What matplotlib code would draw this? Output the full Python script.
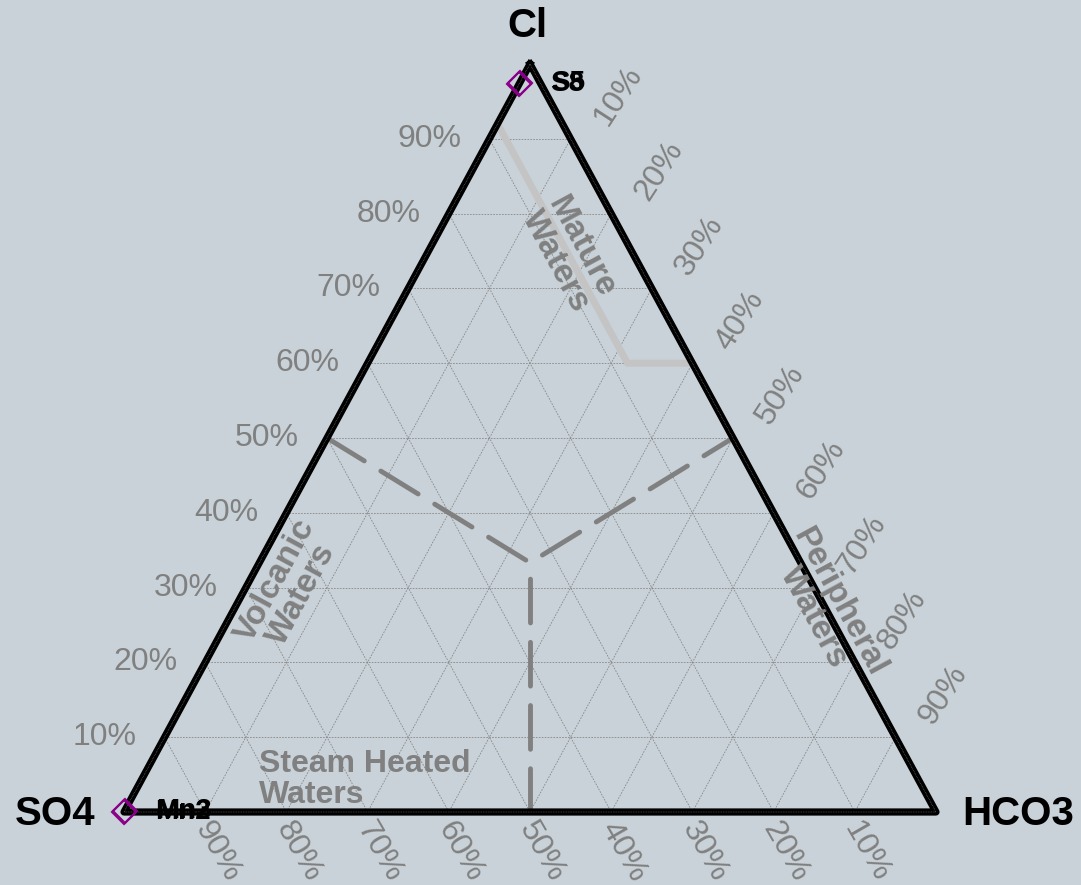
import numpy as np
import matplotlib.pyplot as plt

plt.rcParams['font.family'] = ['Liberation Sans', 'DejaVu Sans']

# ─────────────────────────────────────────────
# DATOS
# ─────────────────────────────────────────────
vertex_labels = ['Cl', 'SO4', 'HCO3']
tick_values = [10, 20, 30, 40, 50, 60, 70, 80, 90]

# muestras (Cl, SO4, HCO3)
sample_names = ['S5', 'S8', 'Mn2', 'Mn3']
sample_cl = [0.975, 0.973, 0.0, 0.002]
sample_so4 = [0.025, 0.027, 1.0, 0.998]
sample_hco3 = [0.0, 0.0, 0.0, 0.0]

# límite "Mature Waters" (Cl, SO4, HCO3)
mature_cl = [0.92, 0.60, 0.60]
mature_so4 = [0.08, 0.08, 0.00]
mature_hco3 = [0.00, 0.32, 0.40]

# divisiones punteadas (Cl, SO4, HCO3)
div_a_cl = [0.5, 1 / 3, 0.5]
div_a_so4 = [0.5, 1 / 3, 0.0]
div_a_hco3 = [0.0, 1 / 3, 0.5]
div_b_cl = [0.0, 1 / 3]
div_b_so4 = [0.5, 1 / 3]
div_b_hco3 = [0.5, 1 / 3]

BG = '#c8d2d8'
GREY = '#808080'


def tern(cl, so4, hco3):
    cl, so4, hco3 = np.asarray(cl, float), np.asarray(so4, float), np.asarray(hco3, float)
    s = cl + so4 + hco3
    return (hco3 + cl / 2) / s, cl / s


W, H = 1081, 885
fig = plt.figure(figsize=(W / 100, H / 100), dpi=100, facecolor=BG)
ax = fig.add_axes([124 / W, 73 / H, 812 / W, 748 / H])
ax.set_xlim(0, 1)
ax.set_ylim(0, 1)
ax.axis('off')

# rejilla
grid_kw = dict(color='#888888', lw=0.6, ls=(0, (2, 1.5)), zorder=1)
for v in tick_values:
    f = v / 100
    x, y = tern([f, f], [1 - f, 0], [0, 1 - f])      # Cl constante
    ax.plot(x, y, **grid_kw)
    x, y = tern([1 - f, 0], [f, f], [0, 1 - f])      # SO4 constante
    ax.plot(x, y, **grid_kw)
    x, y = tern([1 - f, 0], [0, 1 - f], [f, f])      # HCO3 constante
    ax.plot(x, y, **grid_kw)

# bordes del triángulo
x, y = tern([1, 0, 0, 1], [0, 1, 0, 0], [0, 0, 1, 0])
ax.plot(x, y, color='black', lw=5.2, solid_joinstyle='round', zorder=3, clip_on=False)
ax.plot(x, y, color='#aaaaaa', lw=0.3, ls=(0, (2, 2)), zorder=4, clip_on=False)

# líneas de regiones
x, y = tern(mature_cl, mature_so4, mature_hco3)
ax.plot(x, y, color='#c4c4c4', lw=5, solid_capstyle='round', solid_joinstyle='round', zorder=2)
dash_kw = dict(color=GREY, lw=3.5, ls=(0, (9, 4)), dash_capstyle='round', zorder=2)
x, y = tern(div_a_cl, div_a_so4, div_a_hco3)
ax.plot(x, y, **dash_kw)
x, y = tern(div_b_cl, div_b_so4, div_b_hco3)
ax.plot(x, y, **dash_kw)

# etiquetas de ejes
tk = dict(fontsize=23, color=GREY, textcoords='offset pixels', annotation_clip=False)
for v in tick_values:
    f = v / 100
    ax.annotate(f'{v}%', xy=tern(f, 1 - f, 0), xytext=(-28, 0), ha='right', va='center', **tk)
    ax.annotate(f'{v}%', xy=tern(0, f, 1 - f), xytext=(-4, -12), ha='left', va='center',
                rotation=-60, rotation_mode='anchor', **tk)
    ax.annotate(f'{v}%', xy=tern(1 - f, 0, f), xytext=(30, 16), ha='left', va='center',
                rotation=57, rotation_mode='anchor', **tk)

# vértices
vk = dict(fontsize=29, fontweight='bold', color='black', textcoords='offset pixels',
          annotation_clip=False)
ax.annotate(vertex_labels[0], xy=tern(1, 0, 0), xytext=(-3, 38), ha='center', va='center', **vk)
ax.annotate(vertex_labels[1], xy=tern(0, 1, 0), xytext=(-29, -2), ha='right', va='center', **vk)
ax.annotate(vertex_labels[2], xy=tern(0, 0, 1), xytext=(26, -2), ha='left', va='center', **vk)

# regiones
rk = dict(fontsize=24, fontweight='bold', color=GREY, ha='center', va='center',
          linespacing=0.95, zorder=5)
x, y = tern(0.745, 0.08, 0.175)
ax.text(x, y, 'Mature\nWaters', rotation=-61.6, **rk)
x, y = tern(0.300, 0.647, 0.053)
ax.text(x, y, 'Volcanic\nWaters', rotation=61.6, **rk)
x, y = tern(0.27, 0.0, 0.73)
ax.text(x, y, 'Peripheral\nWaters', rotation=-61.6, **rk)
x, y = tern(0.043, 0.812, 0.145)
ax.text(x, y, 'Steam Heated\nWaters', fontsize=23, fontweight='bold', color=GREY,
        ha='left', va='center', linespacing=1.05, zorder=5)

# muestras
x, y = tern(sample_cl, sample_so4, sample_hco3)
ax.plot(x, y, 'D', ms=12, mfc='none', mec='#8b008b', mew=1.5, zorder=6, clip_on=False)
for name, xi, yi in zip(sample_names, x, y):
    ax.annotate(name, xy=(xi, yi), xytext=(31, 0), textcoords='offset pixels',
                fontsize=20, fontweight='bold', ha='left', va='center', zorder=7)

plt.savefig('out.png', dpi=100, facecolor=BG)
plt.close()
